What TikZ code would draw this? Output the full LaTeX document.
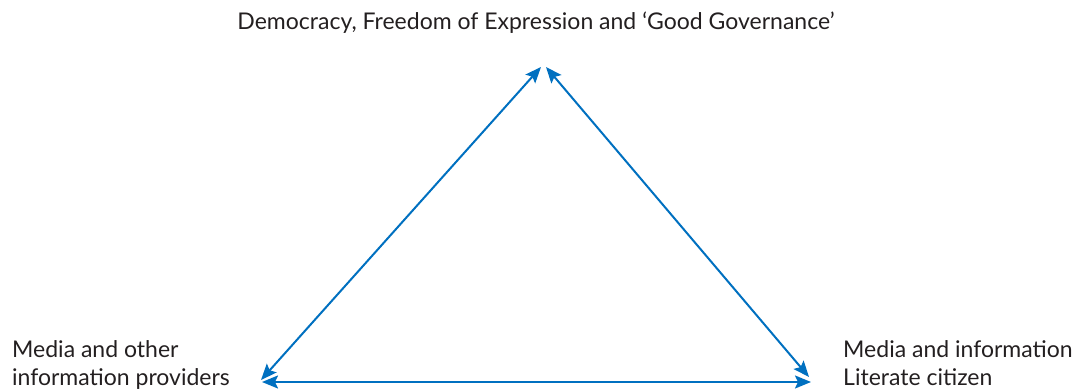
\documentclass[tikz,border=0pt]{standalone}
\usepackage{fontspec}
\setmainfont{Lato}
\usetikzlibrary{arrows.meta}
\definecolor{lineblue}{RGB}{0,112,192}
\definecolor{txt}{RGB}{35,31,32}
\tikzset{
  lbl/.style={font=\fontsize{23}{28}\selectfont, text=txt, inner sep=0pt, align=left},
  link/.style={draw=lineblue, line width=2pt, {Stealth[length=16pt,width=13pt,inset=3pt]}-{Stealth[length=16pt,width=13pt,inset=3pt]}}
}
\begin{document}
\begin{tikzpicture}[x=1pt,y=-1pt]
\useasboundingbox (0,0) rectangle (1078,390);
\node[lbl, anchor=base] (gov) at (536,30) {Democracy, Freedom of Expression and ‘Good Governance’};
\node[lbl, anchor=base west] (media) at (12,385) {Media and other\\information providers};
\node[lbl, anchor=base west] (cit) at (843,385) {Media and information\\Literate citizen};
\coordinate (topL) at (541,67);
\coordinate (topR) at (546,67);
\coordinate (blDiag) at (261,380);
\coordinate (blH) at (262,382);
\coordinate (brH) at (811,382);
\coordinate (brDiag) at (809,377);
\draw[link] (blDiag) -- (topL);
\draw[link] (topR) -- (brDiag);
\draw[link] (blH) -- (brH);
\end{tikzpicture}
\end{document}
